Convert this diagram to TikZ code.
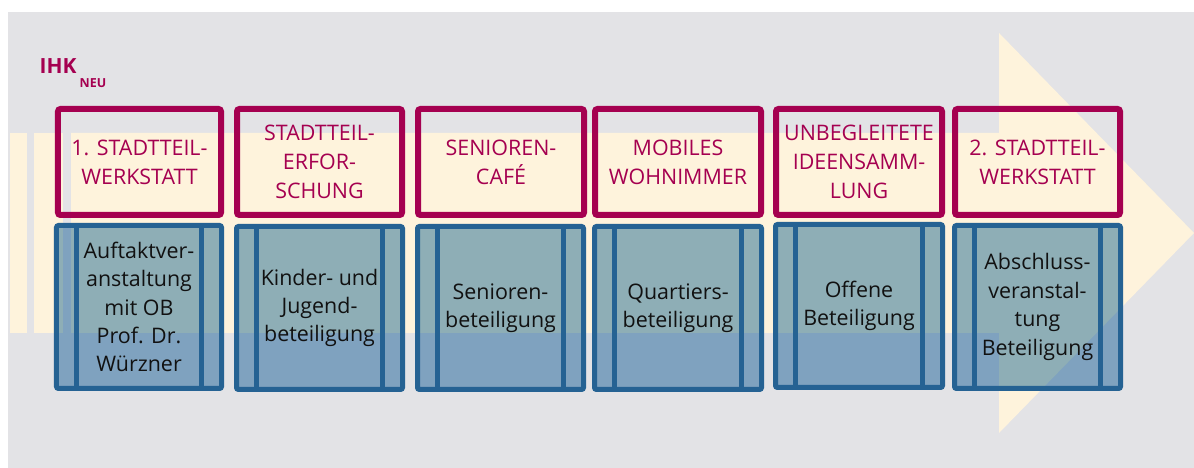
\documentclass[tikz,border=0pt]{standalone}
\usepackage{fontspec}
\setmainfont{Open Sans}
\definecolor{bggray}{RGB}{227,227,230}
\definecolor{cream}{RGB}{254,243,220}
\definecolor{ihkred}{RGB}{165,0,80}
\definecolor{bluebord}{RGB}{37,98,147}
\definecolor{bluefill}{RGB}{143,183,212}
\definecolor{txtdark}{RGB}{17,17,17}
\tikzset{
  redbox/.style={draw=ihkred, line width=6bp, rounded corners=2.5bp, inner sep=0pt, outer sep=0pt,
    minimum height=106bp, align=center, text=ihkred, font=\fontsize{21.5}{29}\selectfont},
  bluebox/.style={draw=bluebord, line width=5bp, rounded corners=2bp, inner sep=0pt, outer sep=0pt,
    minimum height=163bp, align=center, text=txtdark, font=\fontsize{21.5}{28.5}\selectfont,
    preaction={fill=bluefill, blend mode=multiply}},
  innerline/.style={draw=bluebord, line width=5bp},
}
\newcommand{\sublines}[1]{%
  \draw[innerline] ([xshift=20bp]#1.north west) -- ([xshift=20bp]#1.south west);
  \draw[innerline] ([xshift=-20bp]#1.north east) -- ([xshift=-20bp]#1.south east);}
\begin{document}
\begin{tikzpicture}[x=1bp,y=-1bp]
\useasboundingbox (0,0) rectangle (1194,468);
\fill[bggray] (8,12) rectangle (1194,468);
% arrow band
\fill[cream] (10,133) rectangle (27,333);
\fill[cream] (34,133) rectangle (63,333);
\fill[cream] (71,133) -- (999,133) -- (999,33) -- (1194,233) -- (999,433) -- (999,333) -- (71,333) -- cycle;
% title
\node[anchor=base west, inner sep=0pt, text=ihkred, font=\fontsize{21}{21}\selectfont\bfseries] (ihk) at (39.5,74) {IHK};
\node[anchor=base west, inner sep=0pt, text=ihkred, font=\fontsize{12.5}{12.5}\selectfont\bfseries] (neu) at (79.5,88) {NEU};
% red boxes
\node[redbox, minimum width=163bp] (r1) at (139.5,162) {1. STADTTEIL-\\WERKSTATT};
\node[redbox, minimum width=165bp] (r2) at (319.5,162) {STADTTEIL-\\ERFOR-\\SCHUNG};
\node[redbox, minimum width=166bp] (r3) at (501,162) {SENIOREN-\\CAFÉ};
\node[redbox, minimum width=166bp] (r4) at (678,162) {MOBILES\\WOHNIMMER};
\node[redbox, minimum width=166bp] (r5) at (859,162) {UNBEGLEITETE\\IDEENSAMM-\\LUNG};
\node[redbox, minimum width=165bp] (r6) at (1037.5,162) {2. STADTTEIL-\\WERKSTATT};
% blue boxes
\node[bluebox, minimum width=165bp] (b1) at (139,307) {Auftaktver-\\anstaltung\\mit OB\\Prof. Dr.\\Würzner};
\node[bluebox, minimum width=166bp] (b2) at (319.5,308) {Kinder- und\\Jugend-\\beteiligung};
\node[bluebox, minimum width=166bp] (b3) at (500.5,308) {Senioren-\\beteiligung};
\node[bluebox, minimum width=167bp] (b4) at (678,308) {Quartiers-\\beteiligung};
\node[bluebox, minimum width=167bp] (b5) at (859,306) {Offene\\Beteiligung};
\node[bluebox, minimum width=166bp] (b6) at (1037.5,307) {Abschluss-\\veranstal-\\tung\\Beteiligung};
\sublines{b1}\sublines{b2}\sublines{b3}\sublines{b4}\sublines{b5}\sublines{b6}
\end{tikzpicture}
\end{document}
